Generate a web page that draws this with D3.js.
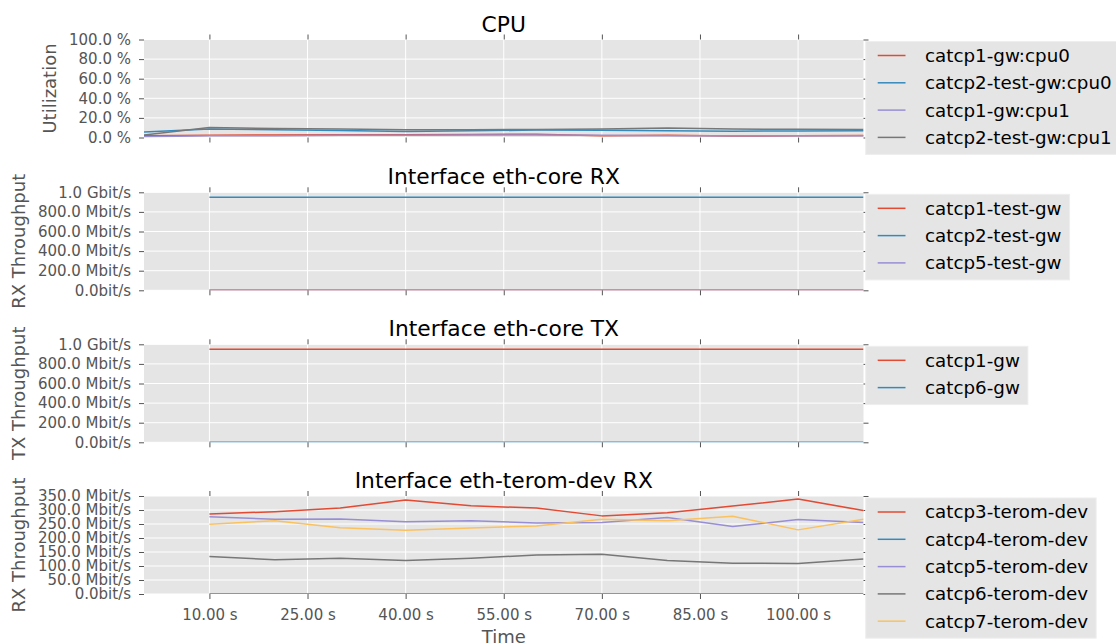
<!DOCTYPE html>
<html>
<head>
<meta charset="utf-8">
<script src="https://cdn.jsdelivr.net/npm/d3@7"></script>
<style>
  html, body { margin: 0; padding: 0; background: #ffffff; }
  svg { display: block; font-family: "DejaVu Sans", sans-serif; }
</style>
</head>
<body>
<svg id="chart" width="1116" height="644"></svg>
<script>
// ---------------- data ----------------
const cpuTimes = [0, 10, 20, 30, 40, 50, 60, 70, 80, 90, 100, 110];
const ifaceTimes = [10, 20, 30, 40, 50, 60, 70, 80, 90, 100, 110];

const cpuNames = ["catcp1-gw:cpu0", "catcp2-test-gw:cpu0", "catcp1-gw:cpu1", "catcp2-test-gw:cpu1"];
const cpu_catcp1_cpu0 = [1.7, 2.4, 2.6, 2.8, 2.8, 3.0, 3.4, 1.9, 2.2, 1.5, 1.8, 2.0];
const cpu_catcp2_cpu0 = [5.5, 8.8, 8.0, 7.2, 6.2, 6.8, 7.6, 7.3, 7.0, 6.4, 6.7, 7.0];
const cpu_catcp1_cpu1 = [0.8, 1.7, 1.9, 2.2, 2.4, 2.6, 2.5, 2.2, 1.9, 1.8, 1.7, 1.8];
const cpu_catcp2_cpu1 = [2.5, 10.3, 9.2, 8.8, 8.0, 8.0, 8.2, 8.8, 9.6, 8.6, 8.3, 8.2];

const rxCoreNames = ["catcp1-test-gw", "catcp2-test-gw", "catcp5-test-gw"];
const rxCore_catcp1 = [0, 0, 0, 0, 0, 0, 0, 0, 0, 0, 0];
const rxCore_catcp2 = [950, 950, 950, 950, 950, 950, 950, 950, 950, 950, 950];
const rxCore_catcp5 = [0, 0, 0, 0, 0, 0, 0, 0, 0, 0, 0];

const txCoreNames = ["catcp1-gw", "catcp6-gw"];
const txCore_catcp1 = [950, 950, 950, 950, 950, 950, 950, 950, 950, 950, 950];
const txCore_catcp6 = [0, 0, 0, 0, 0, 0, 0, 0, 0, 0, 0];

const rxDevNames = ["catcp3-terom-dev", "catcp4-terom-dev", "catcp5-terom-dev", "catcp6-terom-dev", "catcp7-terom-dev"];
const rxDev_catcp3 = [286, 294, 307, 336, 315, 307, 279, 290, 314, 339, 298];
const rxDev_catcp4 = [0, 0, 0, 0, 0, 0, 0, 0, 0, 0, 0];
const rxDev_catcp5 = [276, 267, 268, 258, 262, 254, 255, 273, 241, 266, 255];
const rxDev_catcp6 = [134, 122, 128, 120, 128, 139, 142, 120, 110, 109, 125];
const rxDev_catcp7 = [249, 262, 237, 228, 236, 243, 267, 262, 278, 229, 267];

const xTickValues = [10, 25, 40, 55, 70, 85, 100];
const cpuTicks = [0, 20, 40, 60, 80, 100];
const coreTicks = [0, 200, 400, 600, 800, 1000];
const devTicks = [0, 50, 100, 150, 200, 250, 300, 350];

const palette = ["#E24A33", "#348ABD", "#988ED5", "#777777", "#FBC15E"];

// ---------------- layout ----------------
const svg = d3.select("#chart");
const plotLeft = 144, plotRight = 863.5, plotH = 98;
const x = d3.scaleLinear().domain([0, 110]).range([plotLeft, plotRight]);

function fmtRate(v) {
  if (v === 0) return "0.0bit/s";
  if (v >= 1000) return (v / 1000).toFixed(1) + " Gbit/s";
  return v.toFixed(1) + " Mbit/s";
}

const panels = [
  { title: "CPU", ylabel: "Utilization", top: 39.5, domain: [0, 100], ticks: cpuTicks,
    fmt: v => v.toFixed(1) + " %", times: cpuTimes, names: cpuNames,
    series: [cpu_catcp1_cpu0, cpu_catcp2_cpu0, cpu_catcp1_cpu1, cpu_catcp2_cpu1] },
  { title: "Interface eth-core RX", ylabel: "RX Throughput", top: 192.3, domain: [0, 1000], ticks: coreTicks,
    fmt: fmtRate, times: ifaceTimes, names: rxCoreNames,
    series: [rxCore_catcp1, rxCore_catcp2, rxCore_catcp5] },
  { title: "Interface eth-core TX", ylabel: "TX Throughput", top: 344.3, domain: [0, 1000], ticks: coreTicks,
    fmt: fmtRate, times: ifaceTimes, names: txCoreNames,
    series: [txCore_catcp1, txCore_catcp6] },
  { title: "Interface eth-terom-dev RX", ylabel: "RX Throughput", top: 496, domain: [0, 350], ticks: devTicks,
    fmt: fmtRate, times: ifaceTimes, names: rxDevNames,
    series: [rxDev_catcp3, rxDev_catcp4, rxDev_catcp5, rxDev_catcp6, rxDev_catcp7] }
];

const defs = svg.append("defs");

panels.forEach((p, pi) => {
  const y = d3.scaleLinear().domain(p.domain).range([p.top + plotH, p.top]);
  const g = svg.append("g");

  // background
  g.append("rect").attr("x", plotLeft).attr("y", p.top)
    .attr("width", plotRight - plotLeft).attr("height", plotH).attr("fill", "#E5E5E5");

  // grid
  g.append("g").selectAll("line").data(p.ticks).join("line")
    .attr("x1", plotLeft).attr("x2", plotRight)
    .attr("y1", d => y(d)).attr("y2", d => y(d))
    .attr("stroke", "#ffffff").attr("stroke-width", 1);
  g.append("g").selectAll("line").data(xTickValues).join("line")
    .attr("x1", d => x(d)).attr("x2", d => x(d))
    .attr("y1", p.top).attr("y2", p.top + plotH)
    .attr("stroke", "#ffffff").attr("stroke-width", 1);

  // clip
  const cid = "clip" + pi;
  defs.append("clipPath").attr("id", cid).append("rect")
    .attr("x", plotLeft).attr("y", p.top).attr("width", plotRight - plotLeft).attr("height", plotH);

  // lines
  const line = d3.line().x(d => x(d[0])).y(d => y(d[1]));
  const lg = g.append("g").attr("clip-path", `url(#${cid})`);
  p.series.forEach((s, si) => {
    lg.append("path")
      .attr("d", line(p.times.map((t, i) => [t, s[i]])))
      .attr("fill", "none").attr("stroke", palette[si]).attr("stroke-width", 1.5)
      .attr("stroke-linejoin", "round");
  });

  // axes
  const tickColor = "#555555";
  const yl = g.append("g").attr("transform", `translate(${plotLeft},0)`)
    .call(d3.axisLeft(y).tickValues(p.ticks).tickFormat(p.fmt).tickSize(5).tickPadding(8));
  const yr = g.append("g").attr("transform", `translate(${plotRight},0)`)
    .call(d3.axisRight(y).tickValues(p.ticks).tickFormat("").tickSize(5));
  const xt = g.append("g").attr("transform", `translate(0,${p.top})`)
    .call(d3.axisTop(x).tickValues(xTickValues).tickFormat("").tickSize(5));
  const isLast = pi === panels.length - 1;
  const xb = g.append("g").attr("transform", `translate(0,${p.top + plotH})`)
    .call(d3.axisBottom(x).tickValues(xTickValues)
      .tickFormat(isLast ? (d => d.toFixed(2) + " s") : "").tickSize(5).tickPadding(10));
  [yl, yr, xt, xb].forEach(a => {
    a.select(".domain").remove();
    a.selectAll(".tick line").attr("stroke", tickColor);
    a.selectAll(".tick text").attr("fill", tickColor)
      .attr("font-family", "DejaVu Sans").attr("font-size", 15);
  });

  // title
  g.append("text").attr("x", (plotLeft + plotRight) / 2).attr("y", p.top - 8)
    .attr("text-anchor", "middle").attr("font-size", 21.8).attr("fill", "#000")
    .text(p.title);

  // y label (placed left of the tick labels)
  let minX = Infinity;
  yl.selectAll(".tick text").each(function () {
    const b = this.getBBox();
    minX = Math.min(minX, b.x);
  });
  const lx = plotLeft + minX - 13;
  const cy = p.top + plotH / 2;
  g.append("text").attr("transform", `translate(${lx},${cy}) rotate(-90)`)
    .attr("text-anchor", "middle").attr("font-size", 18).attr("fill", "#555555")
    .text(p.ylabel);

  // legend
  const legTop = p.top + 2;
  const legX = 865.7;
  const step = 27.3;
  const leg = g.append("g");
  const box = leg.append("rect").attr("x", legX).attr("y", legTop)
    .attr("height", 14 + (p.names.length - 1) * step + 17)
    .attr("fill", "#E5E5E5").attr("stroke", "#eeeeee").attr("stroke-width", 1);
  let maxW = 0;
  p.names.forEach((n, i) => {
    const ly = legTop + 14 + i * step;
    leg.append("line").attr("x1", 877.7).attr("x2", 905.5).attr("y1", ly).attr("y2", ly)
      .attr("stroke", palette[i]).attr("stroke-width", 1.5);
    const t = leg.append("text").attr("x", 925).attr("y", ly).attr("dy", "0.35em")
      .attr("font-size", 18.3).attr("fill", "#000").text(n);
    maxW = Math.max(maxW, t.node().getComputedTextLength());
  });
  box.attr("width", 925 + maxW + 8 - legX);
});

// x label
svg.append("text").attr("x", (plotLeft + plotRight) / 2).attr("y", 643)
  .attr("text-anchor", "middle").attr("font-size", 18).attr("fill", "#555555").text("Time");
</script>
</body>
</html>
